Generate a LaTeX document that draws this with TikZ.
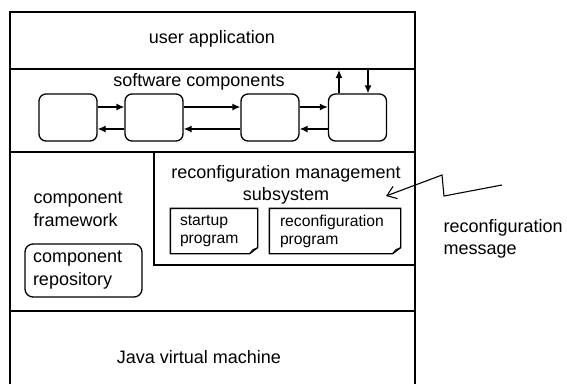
\documentclass[tikz,border=0pt]{standalone}
\usepackage{fontspec}
\setmainfont{Liberation Sans}
\usetikzlibrary{positioning,arrows.meta}

\begin{document}
\begin{tikzpicture}[x=1pt,y=-1pt,line width=1.3pt,
  font=\fontsize{18}{23}\selectfont,
  >={Latex[length=8pt,width=7pt]},
  comp/.style={draw,rounded corners=7pt,minimum width=58pt,minimum height=47pt},
  docbox/.style={font=\fontsize{15.7}{18}\selectfont,align=left,inner sep=0pt,minimum height=44pt}]
\useasboundingbox (0,0) rectangle (567,384);
% layers
\draw (10,384) -- (10,12) -- (415,12) -- (415,384);
\draw (10,69) -- (415,69);
\draw (10,152) -- (415,152);
\draw (10,311) -- (415,311);
\draw (154,152) -- (154,265) -- (415,265);
\node (user) at (212,39) {user application};
\node (jvm) at (199,357) {Java virtual machine};

% software components
\node (sw) at (199,82) {software components};
\node[comp] (c1) at (68,117.5) {};
\node[comp] (c2) at (154,117.5) {};
\node[comp] (c3) at (270,117.5) {};
\node[comp] (c4) at (357.5,117.5) {};
\foreach \a/\b in {c1/c2,c2/c3,c3/c4} {
  \draw[->] ([yshift=10.5pt]\a.east) -- ([yshift=10.5pt]\b.west);
  \draw[->] ([yshift=-11.5pt]\b.west) -- ([yshift=-11.5pt]\a.east);
}
\coordinate (out) at (339,70);
\coordinate (in) at (368,70);
\draw[->] (c4.north -| out) -- (out);
\draw[->] (in) -- (c4.north -| in);

% component framework
\node[anchor=west,align=left,inner sep=0pt] (fw) at (33,209) {component\\framework};
\node[draw,rounded corners=8pt,minimum width=117pt,minimum height=53pt,
  text width=101pt,align=left,inner sep=0pt,
  font=\fontsize{18}{23}\selectfont] (repo) at (83.5,270.5) {component\\repository};

% reconfiguration management subsystem
\node[align=center,font=\fontsize{18}{22}\selectfont] (rms) at (286,185) {reconfiguration management\\subsystem};
\node[docbox,minimum width=86pt,text width=68pt] (start) at (214,231) {startup\\program};
\node[docbox,minimum width=130pt,text width=110pt] (prog) at (335,231) {reconfiguration\\program};
\foreach \d in {start,prog} {
  \draw (\d.north west) -- (\d.north east) -- ([yshift=6pt]\d.south east)
    -- ([xshift=-8pt]\d.south east) -- (\d.south west) -- cycle;
  \draw[line width=0.8pt] ([yshift=6pt]\d.south east) -- ([xshift=-5pt,yshift=4pt]\d.south east)
    -- ([xshift=-8pt]\d.south east);
}

% message
\node[anchor=west,align=left,inner sep=0pt,font=\fontsize{18}{22}\selectfont] (msg) at (443,239) {reconfiguration\\message};
\coordinate (src) at (502,185);
\coordinate (dst) at (386,196);
\draw[-{Straight Barb[length=9pt,width=13pt]},line width=1.1pt] (src) -- (444,196) -- (442,175) -- (dst);
\end{tikzpicture}
\end{document}
